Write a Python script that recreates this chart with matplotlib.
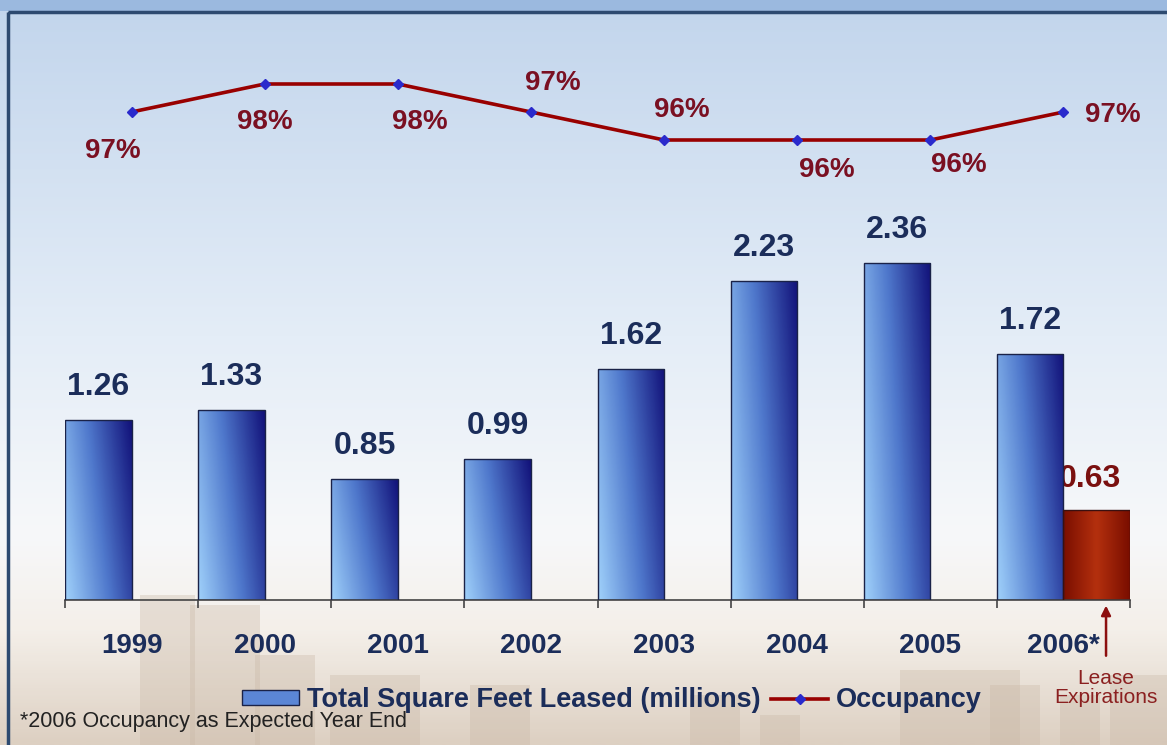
import numpy as np
import matplotlib
matplotlib.use('Agg')
import matplotlib.pyplot as plt
from matplotlib.colors import LinearSegmentedColormap
from matplotlib.patches import Rectangle
from matplotlib.lines import Line2D

plt.rcParams['font.family'] = ['Liberation Sans', 'DejaVu Sans']

years = ['1999', '2000', '2001', '2002', '2003', '2004', '2005', '2006*']
sq_feet = [1.26, 1.33, 0.85, 0.99, 1.62, 2.23, 2.36, 1.72]
expirations = [None, None, None, None, None, None, None, 0.63]
occupancy = [97, 98, 98, 97, 96, 96, 96, 97]
occ_labels = ['97%', '98%', '98%', '97%', '96%', '96%', '96%', '97%']

navy = '#1b2d5a'
dark_red = '#8c0f0f'

W, H = 1167, 745
fig = plt.figure(figsize=(W / 100, H / 100), dpi=100)

# background: blue-to-white gradient with a warm haze at the bottom
bg = fig.add_axes([0, 0, 1, 1], zorder=-10)
bg.set_axis_off()
bg_cmap = LinearSegmentedColormap.from_list(
    'bg', [(0, '#c2d5ec'), (0.45, '#e4edf7'), (0.72, '#f7f8fa'),
           (0.85, '#f4efe9'), (1.0, '#ddd0c2')])
grad = np.linspace(0, 1, 300).reshape(-1, 1)
bg.imshow(grad, cmap=bg_cmap, aspect='auto', extent=[0, W, H, 0])
bg.set_xlim(0, W)
bg.set_ylim(H, 0)
# faded skyline
for x0, w, h in [(140, 55, 150), (190, 70, 140), (255, 60, 90), (330, 90, 70),
                 (470, 60, 60), (690, 50, 50), (760, 40, 30), (900, 120, 75),
                 (990, 50, 60), (1060, 40, 50), (1110, 57, 70)]:
    bg.add_patch(Rectangle((x0, H - h), w, h, color='#c9b8a6', alpha=0.35, lw=0))
bg.add_patch(Rectangle((0, 0), W, 11, color='#9bb9df', lw=0))
bg.add_patch(Rectangle((8, 12), W, H, fill=False, ec='#2d4a70', lw=2.5))

# bars
ax = fig.add_axes([65 / W, (H - 600) / H, 1065 / W, 400 / H])
ax.patch.set_alpha(0)
x = np.arange(len(years))
bw = 0.5

blue_cmap = LinearSegmentedColormap.from_list('b', ['#9fd0fa', '#4f78cc', '#12127a'])
red_cmap = LinearSegmentedColormap.from_list('r', ['#7a0e00', '#b4300e', '#7a0e00'])

gx, gy = np.meshgrid(np.linspace(0, 1, 60), np.linspace(0, 1, 60))
blue_grad = 0.75 * gx + 0.25 * gy
red_grad = gx

bars = ax.bar(x - bw / 2, sq_feet, width=bw, color='none',
              edgecolor='#1a2248', linewidth=1.0, zorder=3)
for b in bars:
    im = ax.imshow(blue_grad, cmap=blue_cmap, origin='lower', aspect='auto',
                   extent=[b.get_x(), b.get_x() + b.get_width(), 0, b.get_height()],
                   zorder=2)
    im.set_clip_path(b)

exp_x = [xi + bw / 2 for xi, v in zip(x, expirations) if v is not None]
exp_v = [v for v in expirations if v is not None]
rbars = ax.bar(exp_x, exp_v, width=bw, color='none',
               edgecolor='#3a1010', linewidth=1.0, zorder=3)
for b in rbars:
    im = ax.imshow(red_grad, cmap=red_cmap, origin='lower', aspect='auto',
                   extent=[b.get_x(), b.get_x() + b.get_width(), 0, b.get_height()],
                   zorder=2)
    im.set_clip_path(b)

for b, v in zip(bars, sq_feet):
    ax.annotate(f'{v:.2f}', (b.get_x() + b.get_width() / 2, v),
                xytext=(0, 18), textcoords='offset pixels', ha='center', va='bottom',
                fontsize=23, fontweight='bold', color=navy, zorder=4)
# the expiration label sits partly behind the neighbouring blue bar
for b, v in zip(rbars, exp_v):
    ax.annotate(f'{v:.2f}', (b.get_x() + b.get_width() / 2, v),
                xytext=(-7, 16), textcoords='offset pixels', ha='center', va='bottom',
                fontsize=23, fontweight='bold', color='#7a1010', zorder=1)

ax.set_xlim(-0.5, len(years) - 0.5)
ax.set_ylim(0, 2.8)
for s in ['top', 'right', 'left']:
    ax.spines[s].set_visible(False)
ax.spines['bottom'].set_color('#444444')
ax.spines['bottom'].set_linewidth(1.2)
ax.set_yticks([])
ax.set_xticks(x)
ax.set_xticklabels(years, fontsize=20, fontweight='bold', color=navy)
ax.tick_params(axis='x', which='major', length=0, pad=24)
ax.set_xticks(np.arange(len(years) + 1) - 0.5, minor=True)
ax.tick_params(axis='x', which='minor', length=6, width=1.2, color='#444444')

# lease expiration callout
ax.annotate('', xy=(7.32, 0), xycoords='data', xytext=(7.32, -0.39),
            arrowprops=dict(arrowstyle='-|>', color=dark_red, lw=1.8,
                            mutation_scale=14, shrinkA=0, shrinkB=4),
            annotation_clip=False)
ax.text(7.32, -0.48, 'Lease\nExpirations', ha='center', va='top', fontsize=15,
        color='#8b2020', linespacing=1.0, clip_on=False)

# occupancy line
ax2 = fig.add_axes([65 / W, (H - 200) / H, 1065 / W, 140 / H])
ax2.set_axis_off()
ax2.plot(x, occupancy, color='#990000', lw=2.6, marker='D', markersize=5,
         markerfacecolor='#2a2acc', markeredgecolor='#2a2acc', zorder=3)
ax2.set_xlim(-0.5, len(years) - 0.5)
ax2.set_ylim(96 - 60 / 28, 98 + 24 / 28)
offsets = [(-19, -39), (0, -38), (22, -38), (22, 29),
           (18, 30), (30, -30), (28, -25), (49, -3)]
for xi, v, lab, off in zip(x, occupancy, occ_labels, offsets):
    ax2.annotate(lab, (xi, v), xytext=off, textcoords='offset pixels',
                 ha='center', va='center', fontsize=20, fontweight='bold',
                 color='#7a1022', annotation_clip=False)

# legend
handles = [Rectangle((0, 0), 1, 1, facecolor='#5b86d6', edgecolor='#1a2248', lw=1.0),
           Line2D([], [], color='#990000', lw=2.6, marker='D', markersize=5,
                  markerfacecolor='#2a2acc', markeredgecolor='#2a2acc')]
leg = fig.legend(handles, ['Total Square Feet Leased (millions)', 'Occupancy'],
                 loc='center', bbox_to_anchor=(612 / W, (H - 700) / H), ncol=2,
                 frameon=False, handlelength=2.1, handleheight=0.45,
                 handletextpad=0.3, columnspacing=0.4,
                 prop={'size': 19.5, 'weight': 'bold'})
for t in leg.get_texts():
    t.set_color(navy)

fig.text(20 / W, (H - 721) / H, '*2006 Occupancy as Expected Year End',
         ha='left', va='center', fontsize=15.5, color='#222222')

fig.savefig('out.png', dpi=100)
